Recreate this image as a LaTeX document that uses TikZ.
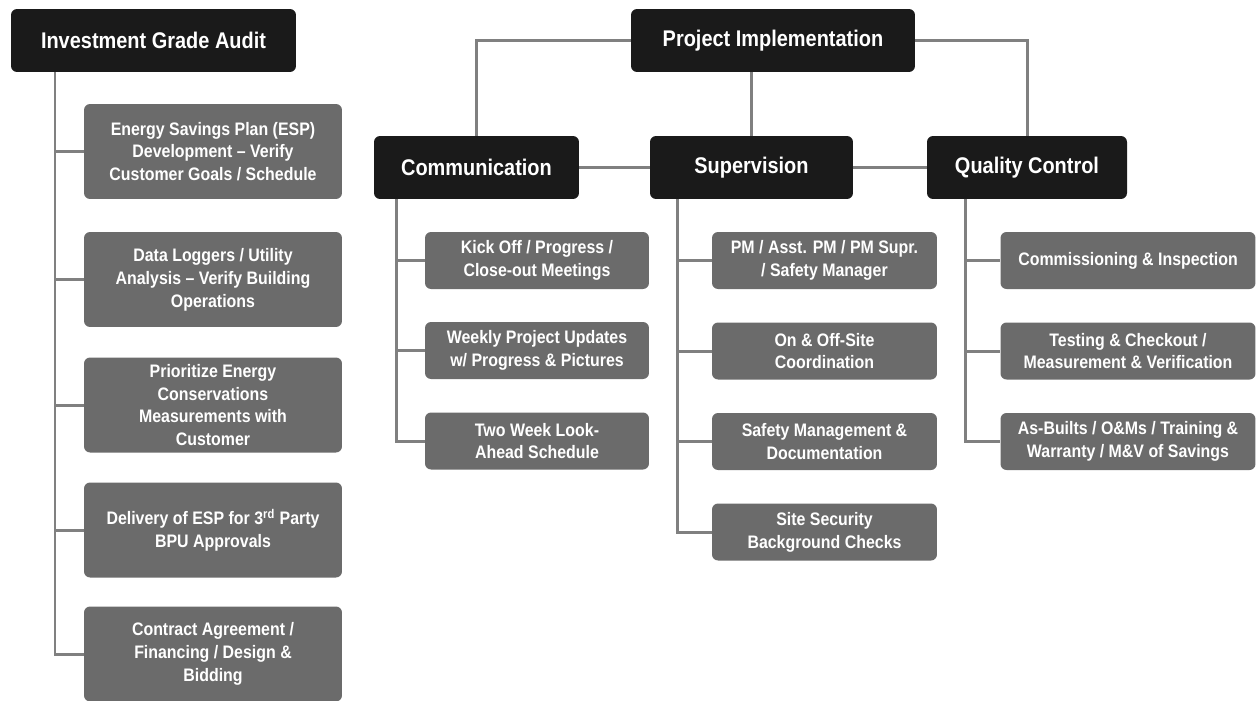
\documentclass[tikz,border=0pt]{standalone}
\usepackage{fontspec}
\setmainfont{Liberation Sans}[FakeStretch=0.88]
\usetikzlibrary{positioning}
\definecolor{igink}{HTML}{1A1A1A}
\definecolor{iggray}{HTML}{6B6B6B}
\definecolor{igline}{HTML}{808080}
\tikzset{
  hd/.style={rounded corners=1.2mm, fill=igink, text=white, align=center, font=\bfseries\fontsize{12.9}{14}\selectfont, minimum height=1.26cm, inner sep=2pt},
  it/.style={rounded corners=1.2mm, fill=iggray, text=white, align=center, font=\bfseries\fontsize{10.3}{13}\selectfont, inner sep=2pt},
  tall/.style={it, minimum width=5.16cm, minimum height=1.9cm},
  sub/.style={it, minimum width=4.48cm, minimum height=1.14cm},
  wsub/.style={it, minimum width=5.1cm, minimum height=1.14cm},
  conn/.style={draw=igline, line width=1.7pt},
}
\begin{document}
\begin{tikzpicture}[x=0.02cm, y=-0.02cm]
  \useasboundingbox (0,0) rectangle (1256,700);
  % audit column
  \node[hd, minimum width=5.7cm] (iga) at (153.5,40.5) {Investment Grade Audit};
  \node[tall] (esp) at (213,151.5) {Energy Savings Plan (ESP)\\Development -- Verify\\Customer Goals / Schedule};
  \node[tall] (dlog) at (213,279.5) {Data Loggers / Utility\\Analysis -- Verify Building\\Operations};
  \node[tall] (prio) at (213,405) {Prioritize Energy\\Conservations\\Measurements with\\Customer};
  \node[tall] (deliv) at (213,530) {Delivery of ESP for 3\textsuperscript{rd} Party\\BPU Approvals};
  \node[tall] (contr) at (213,654) {Contract Agreement /\\Financing / Design \&\\Bidding};
  \coordinate (igaT) at (55,72);
  \foreach \b in {esp,dlog,prio,deliv,contr}
    \draw[conn] (igaT) |- (\b.west);
  % implementation
  \node[hd, minimum width=5.68cm] (pim) at (773,40.5) {Project Implementation};
  \node[hd, minimum width=4.1cm] (comm) at (476.5,167.5) {Communication};
  \node[hd, minimum width=4.06cm] (sup) at (751.5,167.5) {Supervision};
  \node[hd, minimum width=4cm] (qc) at (1027,167.5) {Quality Control};
  \draw[conn] (pim.west) -| (comm.north);
  \draw[conn] (pim.east) -| (qc.north);
  \draw[conn] (sup.north) -- (sup.north |- pim.south);
  \draw[conn] (comm.east) -- (sup.west);
  \draw[conn] (sup.east) -- (qc.west);
  % communication
  \node[sub] (kick) at (537,260.5) {Kick Off / Progress /\\Close-out Meetings};
  \node[sub] (week) at (537,350.5) {Weekly Project Updates\\w/ Progress \& Pictures};
  \node[sub] (look) at (537,441) {Two Week Look-\\Ahead Schedule};
  \coordinate (commT) at (396,199);
  \foreach \b in {kick,week,look}
    \draw[conn] (commT) |- (\b.west);
  % supervision
  \node[sub, minimum width=4.5cm] (pm) at (824.5,260.5) {PM / Asst. PM / PM Supr.\\/ Safety Manager};
  \node[sub, minimum width=4.5cm] (onoff) at (824.5,351) {On \& Off-Site\\Coordination};
  \node[sub, minimum width=4.5cm] (safe) at (824.5,441.5) {Safety Management \&\\Documentation};
  \node[sub, minimum width=4.5cm] (secu) at (824.5,532) {Site Security\\Background Checks};
  \coordinate (supT) at (677,199);
  \foreach \b in {pm,onoff,safe,secu}
    \draw[conn] (supT) |- (\b.west);
  % quality control
  \node[wsub] (comx) at (1128,260.5) {Commissioning \& Inspection};
  \node[wsub] (test) at (1128,351) {Testing \& Checkout /\\Measurement \& Verification};
  \node[wsub] (asb) at (1128,441.5) {As-Builts / O\&Ms / Training \&\\Warranty / M\&V of Savings};
  \coordinate (qcT) at (965,199);
  \foreach \b in {comx,test,asb}
    \draw[conn] (qcT) |- (\b.west);
\end{tikzpicture}
\end{document}
